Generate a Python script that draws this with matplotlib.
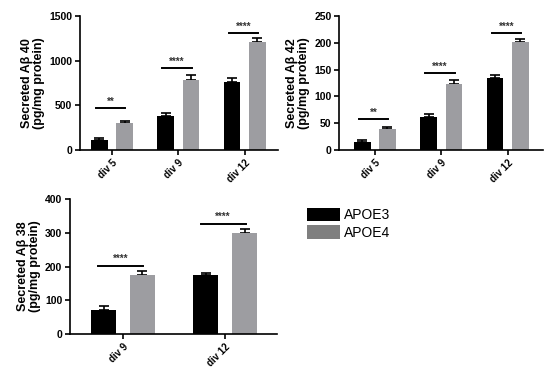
import matplotlib
matplotlib.use("Agg")
import numpy as np
import matplotlib.pyplot as plt
from matplotlib.patches import Patch

plt.rcParams['font.family'] = ['Liberation Sans', 'DejaVu Sans']

# Aβ 40
ab40_groups = ['div 5', 'div 9', 'div 12']
ab40_e3 = [112, 384, 765]
ab40_e3_err = [27, 34, 45]
ab40_e4 = [299, 784, 1212]
ab40_e4_err = [29, 56, 38]
ab40_sig = ['**', '****', '****']
ab40_sig_y = [467, 914, 1313]

# Aβ 42
ab42_groups = ['div 5', 'div 9', 'div 12']
ab42_e3 = [15, 61, 134]
ab42_e3_err = [4, 5.6, 6]
ab42_e4 = [38.6, 122.5, 201]
ab42_e4_err = [4, 9, 5.5]
ab42_sig = ['**', '****', '****']
ab42_sig_y = [58, 144, 218]

# Aβ 38
ab38_groups = ['div 9', 'div 12']
ab38_e3 = [72, 174]
ab38_e3_err = [12, 8]
ab38_e4 = [175, 298]
ab38_e4_err = [12, 12]
ab38_sig = ['****', '****']
ab38_sig_y = [203, 327]

C_E3 = '#000000'
C_E4 = '#9d9da1'
W = 0.25
OFF = 0.19


def draw_panel(ax, groups, e3, e3_err, e4, e4_err, sig, sig_y, ylim, yticks, ylabel, xlim):
    x = np.arange(len(groups))
    ax.bar(x - OFF, e3, W, color=C_E3, zorder=2)
    ax.bar(x + OFF, e4, W, color=C_E4, zorder=2)
    ax.errorbar(x - OFF, e3, yerr=[np.zeros(len(e3)), e3_err], fmt='none',
                ecolor='black', elinewidth=1.2, capsize=3.5, capthick=1.2, zorder=1)
    ax.errorbar(x + OFF, e4, yerr=[np.zeros(len(e4)), e4_err], fmt='none',
                ecolor='black', elinewidth=1.2, capsize=3.5, capthick=1.2, zorder=1)
    span = ylim[1] - ylim[0]
    for xi, s, yy in zip(x, sig, sig_y):
        ax.plot([xi - 0.24, xi + 0.2], [yy, yy], color='black', lw=1.4, clip_on=False)
        ax.text(xi - 0.02, yy + span * 0.01, s, ha='center', va='bottom',
                fontsize=7, fontweight='bold', color='#333333')
    ax.set_ylim(*ylim)
    ax.set_yticks(yticks)
    ax.set_xlim(*xlim)
    ax.set_xticks(x)
    ax.set_xticklabels(groups, rotation=45, ha='right', rotation_mode='anchor',
                       fontsize=7, fontweight='bold')
    for lab in ax.get_yticklabels():
        lab.set_fontsize(7.5)
        lab.set_fontweight('bold')
    ax.set_ylabel(ylabel, fontsize=9, fontweight='bold', linespacing=1.0, labelpad=3)
    ax.spines['top'].set_visible(False)
    ax.spines['right'].set_visible(False)
    ax.spines['left'].set_linewidth(1.2)
    ax.spines['bottom'].set_linewidth(1.2)
    ax.tick_params(axis='both', direction='out', length=3.5, width=1.2, pad=2)


fig = plt.figure(figsize=(5.5, 3.75), dpi=100)

ax1 = fig.add_axes([0.1455, 0.6, 0.36, 0.357])
draw_panel(ax1, ab40_groups, ab40_e3, ab40_e3_err, ab40_e4, ab40_e4_err,
           ab40_sig, ab40_sig_y, (0, 1500), [0, 500, 1000, 1500],
           'Secreted Aβ 40\n(pg/mg protein)', (-0.48, 2.5))

ax2 = fig.add_axes([0.6164, 0.6, 0.3706, 0.357])
draw_panel(ax2, ab42_groups, ab42_e3, ab42_e3_err, ab42_e4, ab42_e4_err,
           ab42_sig, ab42_sig_y, (0, 250), [0, 50, 100, 150, 200, 250],
           'Secreted Aβ 42\n(pg/mg protein)', (-0.54, 2.53))

ax3 = fig.add_axes([0.127, 0.1093, 0.377, 0.36])
draw_panel(ax3, ab38_groups, ab38_e3, ab38_e3_err, ab38_e4, ab38_e4_err,
           ab38_sig, ab38_sig_y, (0, 400), [0, 100, 200, 300, 400],
           'Secreted Aβ 38\n(pg/mg protein)', (-0.52, 1.51))

handles = [Patch(facecolor='#000000', edgecolor='none', label='APOE3'),
           Patch(facecolor='#7f7f7f', edgecolor='none', label='APOE4')]
fig.legend(handles=handles, loc='upper left', bbox_to_anchor=(0.548, 0.46),
           frameon=False, fontsize=10, handlelength=2.4, handleheight=1.1,
           handletextpad=0.25, labelspacing=0.2, borderaxespad=0)

fig.savefig('out.png', dpi=100)
